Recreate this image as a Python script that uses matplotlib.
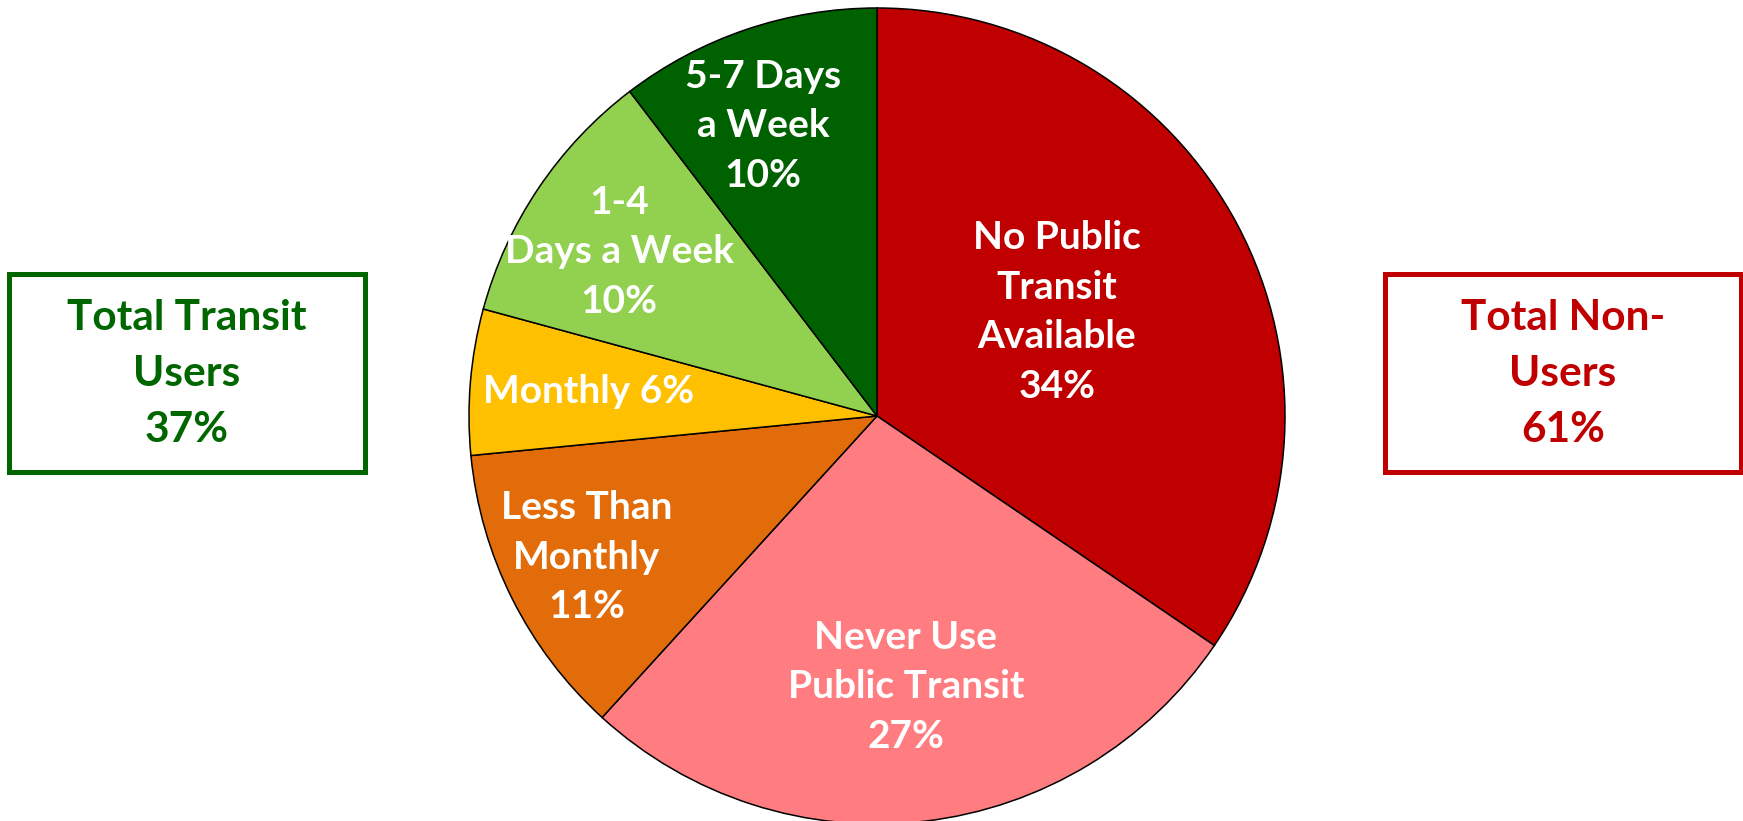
import matplotlib
matplotlib.use("Agg")
import matplotlib.pyplot as plt
from matplotlib.patches import Rectangle

plt.rcParams['font.family'] = ['Lato', 'DejaVu Sans']

categories = ["No Public\nTransit\nAvailable", "Never Use\nPublic Transit", "Less Than\nMonthly",
              "Monthly", "1-4\nDays a Week", "5-7 Days\na Week"]
values = [33.8, 26.7, 11.45, 5.65, 10.2, 10.15]
value_labels = ["34%", "27%", "11%", "6%", "10%", "10%"]
colors = ["#C00000", "#FF7C80", "#E36C0A", "#FFC000", "#92D050", "#006100"]
label_pos = [(0.441, 0.255), (0.071, -0.664), (-0.711, -0.346), (-0.708, 0.059),
             (-0.632, 0.402), (-0.279, 0.711)]

users_label = "Total Transit\nUsers\n37%"
nonusers_label = "Total Non-\nUsers\n61%"

W, H = 1743, 821
fig = plt.figure(figsize=(W / 100, H / 100), dpi=100)
cx, cy, r = 877, 821 - 416, 408
ax = fig.add_axes([(cx - r) / W, (cy - r) / H, 2 * r / W, 2 * r / H])
wedges, _ = ax.pie(values, colors=colors, startangle=90, counterclock=False,
                   wedgeprops=dict(edgecolor="black", linewidth=1.1))
ax.set_xlim(-1, 1)
ax.set_ylim(-1, 1)
ax.set_aspect("equal")
ax.axis("off")

for cat, vl, (x, y) in zip(categories, value_labels, label_pos):
    if cat == "Monthly":
        txt = f"{cat} {vl}"
    else:
        txt = f"{cat}\n{vl}"
    ax.text(x, y, txt, ha="center", va="center", color="white", fontsize=28,
            fontweight="bold", linespacing=1.5)

for (x0, x1), txt, col in [((9, 365), users_label, "#006600"), ((1385, 1741), nonusers_label, "#C00000")]:
    y0, y1 = H - 472, H - 274
    fig.patches.append(Rectangle((x0 / W, y0 / H), (x1 - x0) / W, (y1 - y0) / H,
                                 transform=fig.transFigure, fill=False, edgecolor=col,
                                 linewidth=3.6))
    fig.text((x0 + x1) / 2 / W, (H - 374) / H, txt, ha="center", va="center", color=col,
             fontsize=30.5, fontweight="bold", linespacing=1.57)

fig.savefig("out.png", dpi=100)
